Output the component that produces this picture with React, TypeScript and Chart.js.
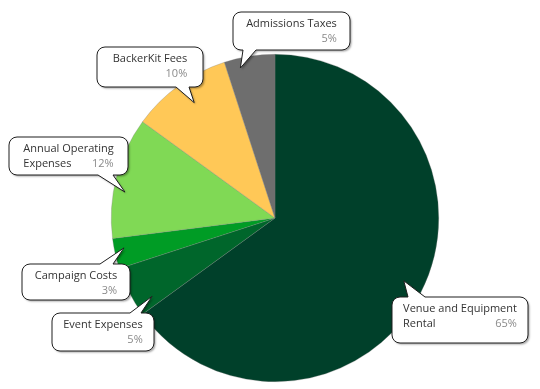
import React, { useEffect, useRef } from "react";
import { Chart, registerables } from "chart.js";

Chart.register(...registerables);

const categories = [
  "Venue and Equipment Rental",
  "Event Expenses",
  "Campaign Costs",
  "Annual Operating Expenses",
  "BackerKit Fees",
  "Admissions Taxes",
];
const shares = [65, 5, 3, 12, 10, 5];
const percentLabels = ["65%", "5%", "3%", "12%", "10%", "5%"];
const sliceColors = ["#00402a", "#00662b", "#009c25", "#80d955", "#ffc857", "#6e6e6e"];

// Callout layout (annotation boxes), one per slice, in slice order
const calloutLayout = [
  { x: 392, y: 297, w: 136, h: 46, side: "top", b1: 408, b2: 425, shift: -1, rf: 0.875 },
  { x: 52, y: 313, w: 102, h: 38, side: "top", b1: 130, b2: 141, shift: -5.5, rf: 0.89 },
  { x: 22, y: 264, w: 108, h: 36, side: "top", b1: 100, b2: 113, shift: 1.4, rf: 0.94 },
  { x: 9, y: 137, w: 119, h: 38, side: "bottom", b1: 98, b2: 113, shift: -4.6, rf: 0.93 },
  { x: 97, y: 47, w: 106, h: 40, side: "bottom", b1: 176, b2: 189, shift: 1, rf: 0.86 },
  { x: 233, y: 12, w: 117, h: 38, side: "bottom", b1: 243, b2: 256, shift: -4, rf: 0.94 },
];

const FONT = "11px 'Open Sans', 'Noto Sans', sans-serif";

function wrapText(ctx: CanvasRenderingContext2D, text: string, maxW: number): string[] {
  const words = text.split(" ");
  const lines: string[] = [];
  let cur = "";
  for (const w of words) {
    const t = cur ? cur + " " + w : w;
    if (ctx.measureText(t).width > maxW && cur) {
      lines.push(cur);
      cur = w;
    } else cur = t;
  }
  if (cur) lines.push(cur);
  return lines;
}

const calloutPlugin = {
  id: "callouts",
  afterDatasetsDraw(chart: any) {
    const ctx: CanvasRenderingContext2D = chart.ctx;
    const meta = chart.getDatasetMeta(0);
    meta.data.forEach((arc: any, i: number) => {
      const L = calloutLayout[i];
      if (!L) return;
      const mid = (arc.startAngle + arc.endAngle) / 2 + (L.shift * Math.PI) / 180;
      const tx = arc.x + Math.cos(mid) * arc.outerRadius * L.rf;
      const ty = arc.y + Math.sin(mid) * arc.outerRadius * L.rf;
      const { x, y, w, h } = L;
      const r = 8;
      ctx.save();
      ctx.beginPath();
      ctx.moveTo(x + r, y);
      if (L.side === "top") {
        ctx.lineTo(L.b1, y);
        ctx.lineTo(tx, ty);
        ctx.lineTo(L.b2, y);
      }
      ctx.lineTo(x + w - r, y);
      ctx.arcTo(x + w, y, x + w, y + r, r);
      ctx.lineTo(x + w, y + h - r);
      ctx.arcTo(x + w, y + h, x + w - r, y + h, r);
      if (L.side === "bottom") {
        ctx.lineTo(L.b2, y + h);
        ctx.lineTo(tx, ty);
        ctx.lineTo(L.b1, y + h);
      }
      ctx.lineTo(x + r, y + h);
      ctx.arcTo(x, y + h, x, y + h - r, r);
      ctx.lineTo(x, y + r);
      ctx.arcTo(x, y, x + r, y, r);
      ctx.closePath();
      ctx.shadowColor = "rgba(0,0,0,0.35)";
      ctx.shadowOffsetX = 1.5;
      ctx.shadowOffsetY = 1.5;
      ctx.shadowBlur = 2;
      ctx.fillStyle = "#ffffff";
      ctx.fill();
      ctx.shadowColor = "transparent";
      ctx.lineWidth = 1;
      ctx.strokeStyle = "#1e1e1e";
      ctx.stroke();

      ctx.font = FONT;
      ctx.textBaseline = "middle";
      const lines = wrapText(ctx, categories[i], 122);
      const blockW = Math.max(...lines.map((l) => ctx.measureText(l).width));
      const left = x + w / 2 - blockW / 2;
      const line1 = y + 11.5;
      ctx.fillStyle = "#333333";
      ctx.textAlign = "left";
      lines.forEach((l, k) => ctx.fillText(l, left, line1 + k * 15));
      const pctLine = Math.max(1, lines.length - 1);
      ctx.fillStyle = "#8a8a8a";
      ctx.textAlign = "right";
      ctx.fillText(percentLabels[i], left + blockW, line1 + pctLine * 15);
      ctx.restore();
    });
  },
};

export default function App() {
  const ref = useRef<HTMLCanvasElement | null>(null);
  useEffect(() => {
    if (!ref.current) return;
    const chart = new Chart(ref.current, {
      type: "pie",
      data: {
        labels: categories,
        datasets: [
          {
            data: shares,
            backgroundColor: sliceColors,
            borderColor: "rgba(120,120,120,0.6)",
            borderWidth: 0.5,
          },
        ],
      },
      options: {
        responsive: true,
        maintainAspectRatio: false,
        animation: false,
        layout: { padding: { left: 111, right: 101, top: 54, bottom: 7 } },
        plugins: {
          legend: { display: false },
          tooltip: { enabled: false },
        },
      },
      plugins: [calloutPlugin],
    });
    return () => chart.destroy();
  }, []);
  return (
    <div style={{ position: "fixed", left: 0, top: 0, width: 540, height: 389, background: "#fff" }}>
      <canvas ref={ref} />
    </div>
  );
}
